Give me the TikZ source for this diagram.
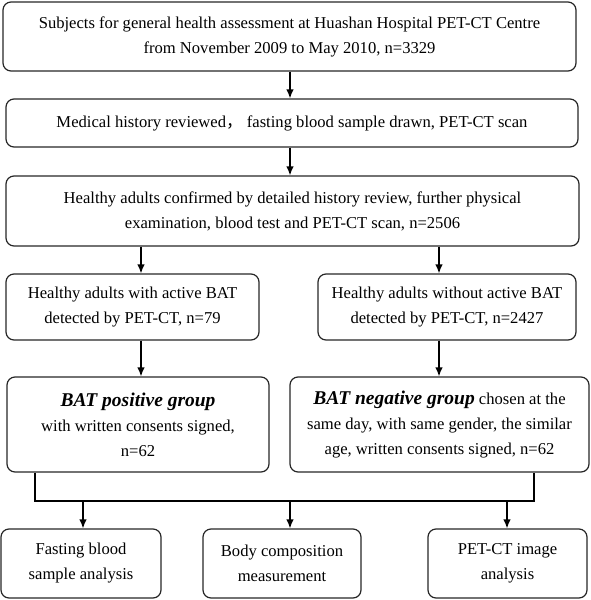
\documentclass[tikz,border=0pt]{standalone}
\usepackage{fontspec}
\setmainfont{Liberation Serif}
\newfontfamily\cjk{Noto Sans CJK SC}
\usetikzlibrary{arrows.meta}
\begin{document}
\begin{tikzpicture}[x=1pt,y=-1pt,
  box/.style={draw=black!85, line width=1.2pt, rounded corners=8pt, align=center, inner sep=0pt,
    font=\fontsize{16.6}{25}\selectfont},
  conn/.style={line width=1.3pt, draw=black},
  arr/.style={conn, -{Latex[length=9pt,width=7.5pt]}}]
\useasboundingbox (0,0) rectangle (591,600);
\node[box, minimum width=573pt, minimum height=69pt] (b1) at (289.5,36.5)
  {Subjects for general health assessment at Huashan Hospital PET-CT Centre\\from November 2009 to May 2010, n=3329};
\node[box, minimum width=572pt, minimum height=48pt] (b2) at (292,123)
  {Medical history reviewed{\cjk ，} fasting blood sample drawn, PET-CT scan};
\node[box, minimum width=573pt, minimum height=70pt] (b3) at (292.5,211)
  {Healthy adults confirmed by detailed history review, further physical\\examination, blood test and PET-CT scan, n=2506};
\node[box, minimum width=253pt, minimum height=66pt] (b4L) at (132.5,307)
  {Healthy adults with active BAT\\detected by PET-CT, n=79};
\node[box, minimum width=258pt, minimum height=66pt] (b4R) at (447,307)
  {Healthy adults without active BAT\\detected by PET-CT, n=2427};
\node[box, minimum width=262pt, minimum height=95pt] (b5L) at (138,424.5)
  {{\fontsize{19.5}{25}\selectfont\bfseries\itshape BAT positive group}\\with written consents signed,\\n=62};
\node[box, minimum width=299pt, minimum height=95pt] (b5R) at (439.5,424.5)
  {{\fontsize{19.5}{25}\selectfont\bfseries\itshape BAT negative group} chosen at the\\same day, with same gender, the similar\\age, written consents signed, n=62};
\node[box, minimum width=160pt, minimum height=69pt] (b6a) at (81,563.5)
  {Fasting blood\\sample analysis};
\node[box, minimum width=158pt, minimum height=69pt] (b6b) at (282,563.5)
  {Body composition\\measurement};
\node[box, minimum width=159pt, minimum height=69pt] (b6c) at (507.5,563.5)
  {PET-CT image\\analysis};
\coordinate (xm) at (290,0);
\coordinate (xl) at (141,0);
\coordinate (xr) at (439,0);
\coordinate (xa) at (83,0);
\coordinate (xc) at (507,0);
\coordinate (jl) at (35,501);
\coordinate (jr) at (534,501);
\draw[arr] (b1.south -| xm) -- (b2.north -| xm);
\draw[arr] (b2.south -| xm) -- (b3.north -| xm);
\draw[arr] (b3.south -| xl) -- (b4L.north -| xl);
\draw[arr] (b3.south -| xr) -- (b4R.north -| xr);
\draw[arr] (b4L.south -| xl) -- (b5L.north -| xl);
\draw[arr] (b4R.south -| xr) -- (b5R.north -| xr);
\draw[conn] (b5L.south -| jl) -- (jl) -- (jr) -- (b5R.south -| jr);
\draw[arr] (jl -| xa) -- (b6a.north -| xa);
\draw[arr] (jl -| xm) -- (b6b.north -| xm);
\draw[arr] (jl -| xc) -- (b6c.north -| xc);
\end{tikzpicture}
\end{document}
